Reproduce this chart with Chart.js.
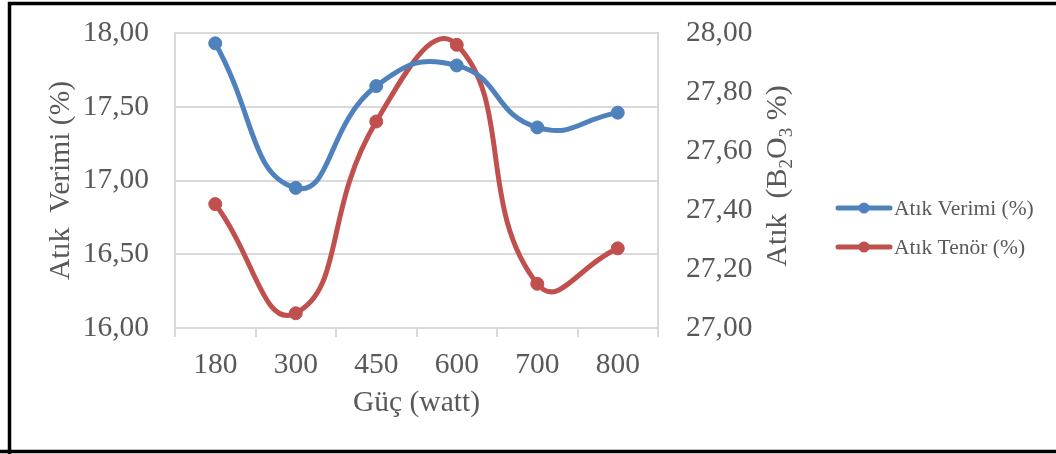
<!DOCTYPE html>
<html>
<head>
<meta charset="utf-8">
<script src="https://cdn.jsdelivr.net/npm/chart.js"></script>
<style>
  html, body { margin: 0; padding: 0; background: #fff; }
  #wrap { width: 1056px; height: 454px; position: relative; }
</style>
</head>
<body>
<div id="wrap"><canvas id="chart" width="1056" height="454"></canvas></div>

<script>
const categories = ['180', '300', '450', '600', '700', '800'];
const verimValues = [17.93, 16.95, 17.64, 17.78, 17.36, 17.46];
const tenorValues = [27.42, 27.05, 27.70, 27.96, 27.15, 27.27];
const leftTicks = [16.00, 16.50, 17.00, 17.50, 18.00];
const rightTicks = [27.00, 27.20, 27.40, 27.60, 27.80, 28.00];

const textColor = '#595959';
const gridColor = '#d9d9d9';
const serif = '"Liberation Serif", "Times New Roman", serif';
const fontSize = 29.5;

const comma = v => v.toFixed(2).replace('.', ',');

// frame, right title with subscripts and the legend
const extras = {
  id: 'extras',
  afterDraw(chart) {
    const ctx = chart.ctx;
    ctx.save();
    ctx.strokeStyle = '#000';
    ctx.lineWidth = 3.5;
    ctx.beginPath();
    ctx.moveTo(9.5, 460);
    ctx.lineTo(9.5, 3.5);
    ctx.lineTo(1060, 3.5);
    ctx.moveTo(0, 451.5);
    ctx.lineTo(1060, 451.5);
    ctx.stroke();

    // right axis title, reads bottom to top
    const parts = [
      ['Atık  (B', false], ['2', true], ['O', false], ['3', true], [' %)', false]
    ];
    const big = '30px ' + serif, small = '19px ' + serif;
    let total = 0;
    parts.forEach(p => { ctx.font = p[1] ? small : big; total += ctx.measureText(p[0]).width; });
    ctx.translate(786, 176);
    ctx.rotate(-Math.PI / 2);
    ctx.fillStyle = textColor;
    ctx.textBaseline = 'alphabetic';
    ctx.textAlign = 'left';
    let x = -total / 2;
    parts.forEach(p => {
      ctx.font = p[1] ? small : big;
      ctx.fillText(p[0], x, p[1] ? 6 : 0);
      x += ctx.measureText(p[0]).width;
    });
    ctx.restore();

    // legend
    ctx.save();
    chart.data.datasets.forEach((ds, i) => {
      const y = 208 + i * 39;
      ctx.strokeStyle = ds.borderColor;
      ctx.lineWidth = 5;
      ctx.lineCap = 'round';
      ctx.beginPath();
      ctx.moveTo(838, y);
      ctx.lineTo(890, y);
      ctx.stroke();
      ctx.fillStyle = ds.backgroundColor;
      ctx.beginPath();
      ctx.arc(864, y, 5.5, 0, Math.PI * 2);
      ctx.fill();
      ctx.fillStyle = textColor;
      ctx.font = '21.5px ' + serif;
      ctx.textBaseline = 'middle';
      ctx.textAlign = 'left';
      ctx.fillText(ds.label, 894, y + 1);
    });
    ctx.restore();
  }
};

const noPad = s => { s.paddingTop = 0; s.paddingBottom = 0; s.paddingLeft = 0; s.paddingRight = 0; };

new Chart(document.getElementById('chart'), {
  type: 'line',
  data: {
    labels: categories,
    datasets: [{
      label: 'Atık Verimi (%)',
      data: verimValues,
      yAxisID: 'y',
      borderColor: '#4f81bd',
      backgroundColor: '#4f81bd',
      borderWidth: 5,
      tension: 0.5,
      pointRadius: 6.5,
      pointBorderWidth: 1,
      pointBorderColor: '#4f81bd'
    }, {
      label: 'Atık Tenör (%)',
      data: tenorValues,
      yAxisID: 'y2',
      borderColor: '#c0504d',
      backgroundColor: '#c0504d',
      borderWidth: 5,
      tension: 0.5,
      pointRadius: 6.5,
      pointBorderWidth: 1,
      pointBorderColor: '#c0504d'
    }]
  },
  options: {
    responsive: false,
    animation: false,
    events: [],
    layout: { padding: { left: 44, right: 0, top: 33, bottom: 33 } },
    elements: { line: { capBezierPoints: false } },
    plugins: { legend: { display: false }, tooltip: { enabled: false } },
    scales: {
      x: {
        offset: true,
        grid: { offset: true, drawOnChartArea: false, drawTicks: true, tickLength: 9, color: gridColor, lineWidth: 2 },
        border: { display: true, color: gridColor, width: 2 },
        ticks: { color: textColor, font: { family: serif, size: fontSize }, padding: 11, maxRotation: 0 },
        title: { display: true, text: 'Güç (watt)', color: textColor, font: { family: serif, size: fontSize }, padding: 0 },
        afterFit(s) { s.height = 93; noPad(s); }
      },
      y: {
        position: 'left',
        min: 16, max: 18,
        afterBuildTicks(s) { s.ticks = leftTicks.map(v => ({ value: v })); },
        grid: { color: gridColor, lineWidth: 2, drawTicks: false },
        border: { display: true, color: gridColor, width: 2 },
        ticks: { color: textColor, font: { family: serif, size: fontSize }, padding: 26, callback: comma },
        title: { display: true, text: 'Atık  Verimi (%)', color: textColor, font: { family: serif, size: fontSize }, padding: 0 },
        afterFit(s) { s.width = 131; noPad(s); }
      },
      y2: {
        position: 'right',
        min: 27, max: 28,
        afterBuildTicks(s) { s.ticks = rightTicks.map(v => ({ value: v })); },
        grid: { drawOnChartArea: false, drawTicks: false },
        border: { display: true, color: gridColor, width: 2 },
        ticks: { color: textColor, font: { family: serif, size: fontSize }, padding: 28, callback: comma },
        afterFit(s) { s.width = 398; noPad(s); }
      }
    }
  },
  plugins: [extras]
});
</script>
</body>
</html>
